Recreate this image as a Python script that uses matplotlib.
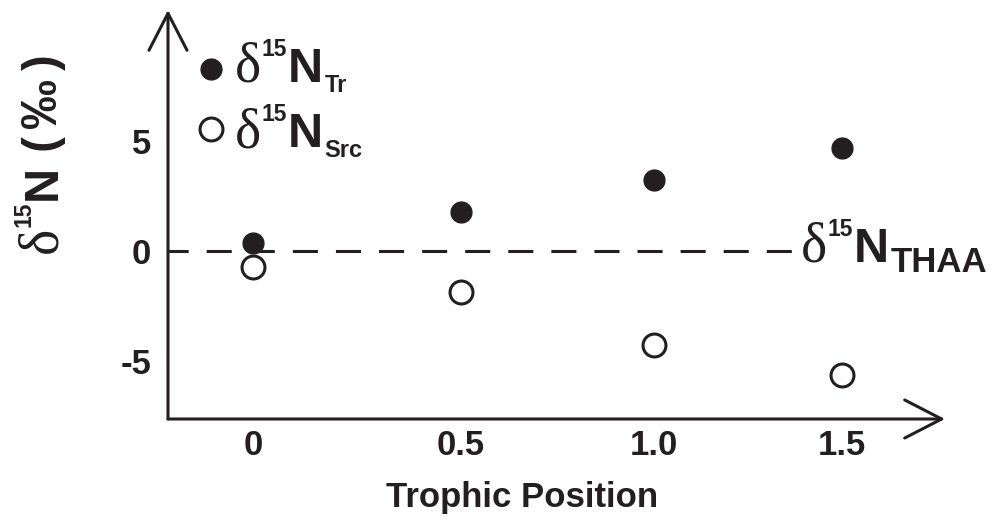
import matplotlib
matplotlib.use("Agg")
import matplotlib.pyplot as plt
from matplotlib.transforms import IdentityTransform

# data
trophic_pos = [0, 0.53, 1.02, 1.5]
tick_labels = ["0", "0.5", "1.0", "1.5"]
d15n_tr = [0.36, 1.77, 3.23, 4.68]
d15n_src = [-0.73, -1.86, -4.27, -5.64]
y_ticks = [-5, 0, 5]
thaa_level = 0
thaa_end = 1.375

INK = "#231f20"
SANS = "Liberation Sans"
SERIF = "Liberation Serif"
plt.rcParams["font.family"] = SANS
plt.rcParams["font.weight"] = "bold"
plt.rcParams["axes.unicode_minus"] = False

W, H = 995, 522
fig = plt.figure(figsize=(W / 100, H / 100), dpi=100)
ax = fig.add_axes([168 / W, (H - 419) / H, (945 - 168) / W, (419 - 10) / H])
ax.set_xlim(-0.216, 1.762)
ax.set_ylim(-7.64, 10.95)
for s in ax.spines.values():
    s.set_visible(False)

# axes drawn as open arrows
arrow = dict(arrowstyle="->,head_length=26.6,head_width=13.7", mutation_scale=1,
             lw=2.2, color=INK, shrinkA=0, shrinkB=0)
ax.annotate("", xy=(0, 1), xytext=(0, 0), xycoords="axes fraction", arrowprops=arrow)
ax.annotate("", xy=(1, 0), xytext=(0, 0), xycoords="axes fraction", arrowprops=arrow)

# THAA reference line
ax.plot([ax.get_xlim()[0], thaa_end], [thaa_level, thaa_level], color=INK, lw=2.2,
        linestyle=(1.6, (8.2, 5.9)), zorder=1)

ax.plot(trophic_pos, d15n_tr, "o", ms=15, color=INK, zorder=3)
ax.plot(trophic_pos, d15n_src, "o", ms=16.5, mfc="white", mec=INK, mew=2.2, zorder=3)

ax.set_xticks(trophic_pos)
ax.set_xticklabels(tick_labels)
ax.set_yticks(y_ticks)
ax.tick_params(axis="x", length=0, labelsize=25, pad=7, colors=INK)
ax.tick_params(axis="y", length=0, labelsize=25, pad=12, colors=INK)

ax.set_xlabel("Trophic Position", fontsize=25, fontweight="bold", color=INK, va="top")
ax.xaxis.set_label_coords(0.456, -0.152)

# legend markers
ax.plot([0.055], [0.856], "o", ms=15, color=INK, transform=ax.transAxes, clip_on=False)
ax.plot([0.055], [0.709], "o", ms=16.5, mfc="white", mec=INK, mew=2.2,
        transform=ax.transAxes, clip_on=False)

renderer = fig.canvas.get_renderer()


def rich(x0, y0, parts, rotation=0):
    # parts: (text, size, family, rise_px, gap_px); x0, y0 = baseline start in pixels
    pos = 0.0
    for s, size, family, rise, gap in parts:
        weight = "normal" if family == SERIF else "bold"
        if rotation == 0:
            xy = (x0 + pos + gap, y0 + rise)
        else:
            xy = (x0 - rise, y0 + pos + gap)
        t = fig.text(xy[0], xy[1], s, transform=IdentityTransform(), fontsize=size,
                     family=family, weight=weight, ha="left", va="baseline",
                     rotation=rotation, rotation_mode="anchor", color=INK)
        bb = t.get_window_extent(renderer)
        pos += gap + (bb.width if rotation == 0 else bb.height)


def d15n(sub, sub_size=17, big=35):
    return [("δ", 40, SERIF, 0, 0), ("15", 16.5, SANS, 26, 0),
            ("N", big, SANS, 0, 1), (sub, sub_size, SANS, -10, 2)]


rich(235, H - 82, d15n("Tr"))
rich(235, H - 147, d15n("Src"))

x_end, y_zero = ax.transData.transform((thaa_end, thaa_level))
rich(x_end + 8, y_zero - 11, d15n("THAA", sub_size=25))

rich(56, H - 253, [("δ", 40, SERIF, 0, 0), ("15", 16.5, SANS, 26, 0),
                   ("N", 35, SANS, 0, 1), (" (", 34, SANS, 0, 0),
                   ("‰", 36, SANS, 0, 8), (")", 34, SANS, 0, 8)], rotation=90)

fig.savefig("out.png", dpi=100)
